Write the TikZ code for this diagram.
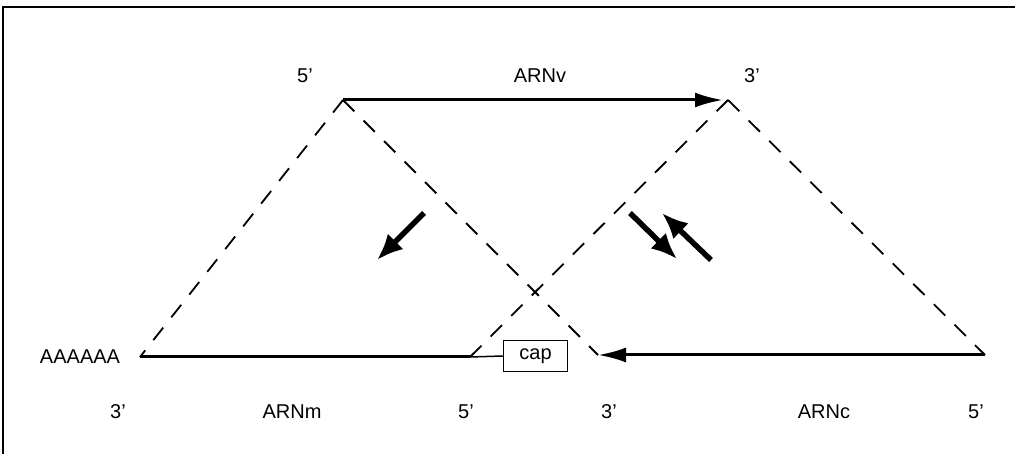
\documentclass[tikz,border=0pt]{standalone}
\usepackage{fontspec}
\setmainfont{Liberation Sans}
\usetikzlibrary{arrows.meta}
\begin{document}
\begin{tikzpicture}[x=1pt,y=-1pt,
  lbl/.style={font=\fontsize{20}{22}\selectfont, inner sep=0pt},
  strand/.style={line width=3pt},
  dashline/.style={dash pattern=on 16pt off 13pt, line width=1.8pt},
  bigarrow/.style={line width=5.5pt, -{Latex[length=26pt,width=22pt]}},
  tipend/.style={-{Latex[length=28pt,width=15pt]}}]
\useasboundingbox (0,0) rectangle (1015,454);
\draw[line width=2pt] (3,454) -- (3,7) -- (1015,7);
% vertices
\coordinate (v5) at (343,100);
\coordinate (v3) at (728,100);
\coordinate (m3) at (140,357);
\coordinate (m5) at (470,357);
\coordinate (c3) at (598,355);
\coordinate (c5) at (985,355);
\node[draw, line width=1.5pt, minimum width=64pt, minimum height=31pt, inner sep=0pt, font=\fontsize{20}{22}\selectfont] (cap) at (535.5,356) {cap};
% strands
\draw[strand, tipend, shorten >=5pt] (v5) -- (v3);
\draw[strand, tipend] (c5) -- (c3);
\draw[strand] (m3) -- (m5);
\draw[line width=1.5pt] (m5) -- (cap.west);
% dashed
\draw[dashline] (v5) -- (m3);
\draw[dashline] (v5) -- (c3);
\draw[dashline] (v3) -- (m5);
\draw[dashline] (v3) -- (c5);
% thick arrows
\coordinate (a1s) at (424,213); \coordinate (a1e) at (377,260);
\coordinate (a2s) at (630,213); \coordinate (a2e) at (677,259);
\coordinate (a3s) at (711,260); \coordinate (a3e) at (662,213);
\draw[bigarrow] (a1s) -- (a1e);
\draw[bigarrow] (a2s) -- (a2e);
\draw[bigarrow] (a3s) -- (a3e);
% labels
\node[lbl] (t1) at (305,76) {5'};
\node[lbl] (t2) at (540,76) {ARNv};
\node[lbl] (t3) at (752,76) {3'};
\node[lbl] (t4) at (80,357) {AAAAAA};
\node[lbl] (t5) at (118,412) {3'};
\node[lbl] (t6) at (292,412) {ARNm};
\node[lbl] (t7) at (466,412) {5'};
\node[lbl] (t8) at (609,412) {3'};
\node[lbl] (t9) at (824,412) {ARNc};
\node[lbl] (t10) at (976,412) {5'};
\end{tikzpicture}
\end{document}
